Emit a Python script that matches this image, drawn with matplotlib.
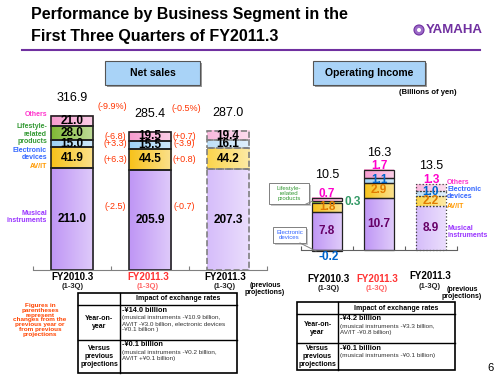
import numpy as np
import matplotlib
matplotlib.use("Agg")
import matplotlib.pyplot as plt
from matplotlib.patches import Rectangle, Circle
from matplotlib.colors import to_rgb

plt.rcParams['font.family'] = ['Liberation Sans', 'DejaVu Sans']

# =================================================================
# Data
# =================================================================
segments = ['Musical instruments', 'AV/IT', 'Electronic devices',
            'Lifestyle-related products', 'Others']
periods = ['FY2010.3', 'FY2011.3', 'FY2011.3']

sales_musical = [211.0, 205.9, 207.3]
sales_avit = [41.9, 44.5, 44.2]
sales_elec = [15.0, 15.5, 16.1]
sales_life = [28.0, 0.0, 0.0]
sales_others = [21.0, 19.5, 19.4]
sales_totals = [316.9, 285.4, 287.0]

op_musical = [7.8, 10.7, 8.9]
op_avit = [1.8, 2.9, 2.2]
op_elec = [-0.2, 1.1, 1.0]
op_life = [0.3, 0.0, 0.0]
op_others = [0.7, 1.7, 1.3]
op_totals = [10.5, 16.3, 13.5]

chg_total = ['(-9.9%)', '(-0.5%)']
chg_yoy = ['(-2.5)', '(+6.3)', '(+3.3)', '(-6.8)']    # musical, av/it, elec, others
chg_proj = ['(-0.7)', '(+0.8)', '(-3.9)', '(+0.7)']

seg_colors = ['#bf96f5', '#f7c21a', '#9fd2f6', '#80b935', '#f79ccf']
seg_colors_light = ['#d6bdfa', '#fbd54c', '#bfe0f8', '#a8d46c', '#fab9dd']
label_colors = ['#9933ff', '#ff9900', '#3366ff', '#339933', '#ff33cc']
op_text_colors = ['#660066', '#e07b00', '#0066cc', '#339966', '#ff00cc']

W, H = 500, 375
fig = plt.figure(figsize=(5, 3.75), dpi=100)


def px_axes(x0, x1, y_top, y_bot):
    return fig.add_axes([x0 / W, 1 - y_bot / H, (x1 - x0) / W, (y_bot - y_top) / H])


def gradient_fill(ax, patch, color):
    c0 = np.array(to_rgb(color))
    c1 = c0 + (1 - c0) * 0.5
    t = np.linspace(0, 1, 32)[None, :, None]
    img = c0 * (1 - t) + c1 * t
    x0, y0 = patch.get_x(), patch.get_y()
    ax.imshow(img, extent=[x0, x0 + patch.get_width(), y0, y0 + patch.get_height()],
              aspect='auto', interpolation='bilinear', zorder=1.9)
    patch.set_facecolor('none')


def stack_bars(ax, series, width, lw, last_style):
    x = np.arange(3)
    pos_bottom = np.zeros(3)
    for k, vals in enumerate(series):
        for i in range(3):
            if vals[i] == 0:
                continue
            bottom = pos_bottom[i] if vals[i] > 0 else 0
            last = i == 2
            col = seg_colors_light[k] if last else seg_colors[k]
            b = ax.bar(x[i], vals[i], bottom=bottom, width=width, color=col,
                       edgecolor=last_style[1] if last else '#222222',
                       linewidth=lw, linestyle=last_style[0] if last else '-', zorder=2)
            gradient_fill(ax, b.patches[0], col)
            if vals[i] > 0:
                pos_bottom[i] += vals[i]
    return x


# =================================================================
# Net sales chart
# =================================================================
ax1 = px_axes(33, 267, 60, 270)
sales_series = [sales_musical, sales_avit, sales_elec, sales_life, sales_others]
x = stack_bars(ax1, sales_series, 0.55, 1.2, ('--', '#808080'))
ax1.set_xlim(-0.5, 2.5)
ax1.set_ylim(0, 210 / 0.485)
for s in ['top', 'right', 'left']:
    ax1.spines[s].set_visible(False)
ax1.spines['bottom'].set_color('#808080')
ax1.set_yticks([])
ax1.set_xticks([-0.5, 0.5, 1.5, 2.5])
ax1.set_xticklabels([])
ax1.tick_params(axis='x', direction='in', length=3, color='#808080')

cum = np.cumsum(np.array(sales_series), axis=0)
for k, vals in enumerate(sales_series):
    for i in range(3):
        if vals[i] == 0:
            continue
        mid = cum[k][i] - vals[i] / 2
        ax1.text(x[i], mid, f'{vals[i]:.1f}', ha='center', va='center',
                 fontsize=8.5, fontweight='bold', zorder=3)
for i in range(3):
    ax1.text(x[i], sales_totals[i] + 37, f'{sales_totals[i]:.1f}', ha='center',
             va='center', fontsize=9, zorder=3)

# change figures
red = '#ff3300'
ax1.text(0.52, 338, chg_total[0], ha='center', va='center', fontsize=6.5, color=red)
ax1.text(1.47, 332, chg_total[1], ha='center', va='center', fontsize=6.5, color=red)
mids2 = [130, cum[1][1] - sales_avit[1] / 2, cum[2][1] - sales_elec[1] / 2 + 2,
         cum[4][1] - sales_others[1] / 2]
for j in range(4):
    ax1.text(0.56, mids2[j], chg_yoy[j], ha='center', va='center', fontsize=6.5, color=red)
    ax1.text(1.44, mids2[j], chg_proj[j], ha='center', va='center', fontsize=6.5, color=red)

# =================================================================
# Operating income chart
# =================================================================
ax2 = px_axes(301, 457, 100, 260)
op_series = [op_musical, op_avit, op_elec, op_life, op_others]
stack_bars(ax2, op_series, 0.56, 0.9, (':', '#404040'))
ax2.set_xlim(-0.5, 2.5)
ax2.set_ylim(-10 / 4.9, 150 / 4.9)
for s in ['top', 'right', 'left']:
    ax2.spines[s].set_visible(False)
ax2.spines['bottom'].set_position(('data', 0))
ax2.spines['bottom'].set_color('#606060')
ax2.spines['bottom'].set_zorder(2.5)
ax2.set_yticks([])
ax2.set_xticks([-0.5, 0.5, 1.5, 2.5])
ax2.set_xticklabels([])
ax2.tick_params(axis='x', direction='in', length=3, color='#606060')
# thin green lifestyle stripe without heavy outline
for p in ax2.patches:
    if abs(p.get_height() - op_life[0]) < 1e-9:
        p.set_edgecolor('none')

ob = np.array([op_musical, op_avit, op_elec, op_life, op_others])
pos = np.where(ob > 0, ob, 0)
ocum = np.cumsum(pos, axis=0)
lab_kw = dict(ha='center', va='center', fontsize=8.5, fontweight='bold', zorder=3)
for i in range(3):
    ax2.text(i, op_musical[i] / 2, f'{op_musical[i]:.1f}', color=op_text_colors[0], **lab_kw)
    ax2.text(i, ocum[1][i] - op_avit[i] / 2, f'{op_avit[i]:.1f}', color=op_text_colors[1], **lab_kw)
ax2.text(0, ocum[4][0] + 0.8, f'{op_others[0]:.1f}', color=op_text_colors[4], **lab_kw)
ax2.text(0.49, 9.7, f'{op_life[0]:.1f}', color=op_text_colors[3], **lab_kw)
ax2.text(0.03, -1.4, f'{op_elec[0]:.1f}', color=op_text_colors[2], **lab_kw)
for i in (1, 2):
    ax2.text(i, ocum[2][i] - op_elec[i] / 2 + 0.2, f'{op_elec[i]:.1f}', color=op_text_colors[2], **lab_kw)
    ax2.text(i, ocum[4][i] + 0.8, f'{op_others[i]:.1f}', color=op_text_colors[4], **lab_kw)
tot_off = [4.9, 3.5, 3.7]
for i in range(3):
    ax2.text(i, op_totals[i] + tot_off[i], f'{op_totals[i]:.1f}', ha='center',
             va='center', fontsize=9, zorder=3)

# =================================================================
# Overlay: titles, labels, tables
# =================================================================
ov = fig.add_axes([0, 0, 1, 1])
ov.set_xlim(0, W)
ov.set_ylim(H, 0)
ov.axis('off')

ov.text(31, 15, 'Performance by Business Segment in the', fontsize=11.5,
        fontweight='bold', va='center')
ov.text(31, 37, 'First Three Quarters of FY2011.3', fontsize=11.5,
        fontweight='bold', va='center')
ov.plot([22, 480], [50, 50], color='#7030a0', lw=1.5)
ov.add_patch(Circle((419, 30), 5, facecolor='#9c6cc8', edgecolor='#7030a0', lw=0.8))
ov.add_patch(Circle((419, 30), 2, facecolor='white', edgecolor='none'))
ov.text(426, 30, 'YAMAHA', fontsize=9.5, fontweight='bold', color='#7030a0',
        va='center', family=['Liberation Sans Narrow', 'Liberation Sans'])

for (x0, x1, txt) in [(105, 200, 'Net sales'), (313, 425, 'Operating Income')]:
    ov.add_patch(Rectangle((x0 + 2, 63), x1 - x0, 24, facecolor='#9a9a9a', edgecolor='none'))
    ov.add_patch(Rectangle((x0, 61), x1 - x0, 24, facecolor='#a9d3f7', edgecolor='#555555', lw=0.8))
    ov.text((x0 + x1) / 2, 73, txt, ha='center', va='center', fontsize=7.5, fontweight='bold')

ov.text(428, 93, '(Billions of yen)', ha='center', va='center', fontsize=5.5, fontweight='bold')

# segment labels (net sales, left)
sk = dict(ha='right', va='center', fontsize=5, fontweight='bold', linespacing=1.05)
ov.text(47, 115, 'Others', color=label_colors[4], **sk)
ov.text(47, 134, 'Lifestyle-\nrelated\nproducts', color=label_colors[3], **sk)
ov.text(47, 154, 'Electronic\ndevices', color=label_colors[2], **sk)
ov.text(47, 167, 'AV/IT', color=label_colors[1], **sk)
ov.text(47, 217, 'Musical\ninstruments', color=label_colors[0], **sk)

# segment labels (operating income, right)
sk2 = dict(ha='left', va='center', fontsize=5, fontweight='bold', linespacing=1.05)
ov.text(447, 182, 'Others', color=label_colors[4], **sk2)
ov.text(447, 193, 'Electronic\ndevices', color=label_colors[2], **sk2)
ov.text(447, 207, 'AV/IT', color=label_colors[1], **sk2)
ov.text(447, 232, 'Musical\ninstruments', color=label_colors[0], **sk2)

# callouts
ov.add_patch(Rectangle((271, 185), 40, 21, facecolor='#c8c8c8', edgecolor='none'))
ov.add_patch(Rectangle((269, 183), 40, 21, facecolor='white', edgecolor='#808080', lw=0.7))
ov.text(289, 193.5, 'Lifestyle-\nrelated\nproducts', ha='center', va='center',
        fontsize=4.4, color='#339933', linespacing=1.0)
ov.plot([306, 313], [204, 201], color='#808080', lw=0.7)
ov.add_patch(Rectangle((275, 229), 33, 16, facecolor='#c8c8c8', edgecolor='none'))
ov.add_patch(Rectangle((273, 227), 33, 16, facecolor='white', edgecolor='#808080', lw=0.7))
ov.text(289.5, 235, 'Electronic\ndevices', ha='center', va='center',
        fontsize=4.4, color='#3366ff', linespacing=1.0)
ov.plot([300, 316], [243, 251], color='#808080', lw=0.7)

# x labels
xl = [(73, 148, 225), (329, 377, 430)]
ys = [(277, 287), (279, 288)]
for chart in range(2):
    for i in range(3):
        c1 = '#ff3333' if i == 1 else 'black'
        c2 = '#ff6666' if i == 1 else '#222222'
        y1, y2 = ys[chart]
        if chart == 1 and i == 2:
            y1, y2 = 276, 286
        ov.text(xl[chart][i], y1, periods[i], ha='center', va='center',
                fontsize=7, fontweight='bold', color=c1)
        ov.text(xl[chart][i], y2, '(1-3Q)', ha='center', va='center',
                fontsize=5.5, fontweight='bold', color=c2)
ov.text(265, 289, '(previous\nprojections)', ha='center', va='center', fontsize=5,
        fontweight='bold', linespacing=1.1)
ov.text(462, 293, '(previous\nprojections)', ha='center', va='center', fontsize=5,
        fontweight='bold', linespacing=1.1)

ov.text(40, 320, 'Figures in\nparentheses\nrepresent\nchanges from the\nprevious year or\nfrom previous\nprojections',
        ha='center', va='center', fontsize=4.6, fontweight='bold', color='#ff4400',
        linespacing=0.95)


def table(x0, xs, x1, y0, yh, yr, y1, rows):
    ov.add_patch(Rectangle((x0, y0), x1 - x0, y1 - y0, facecolor='white',
                           edgecolor='black', lw=1.2))
    ov.plot([xs, xs], [y0, y1], color='black', lw=1.0)
    ov.plot([x0, x1], [yh, yh], color='black', lw=1.0)
    ov.plot([x0, x1], [yr, yr], color='black', lw=1.0)
    ov.text((xs + x1) / 2, (y0 + yh) / 2, 'Impact of exchange rates', ha='center',
            va='center', fontsize=5, fontweight='bold')
    bands = [(yh, yr), (yr, y1)]
    heads = ['Year-on-\nyear', 'Versus\nprevious\nprojections']
    for (ya, yb), head, (amt, det) in zip(bands, heads, rows):
        ov.text((x0 + xs) / 2, (ya + yb) / 2, head, ha='center', va='center',
                fontsize=5, fontweight='bold', linespacing=1.15)
        ov.text(xs + 2, ya + 5, amt, ha='left', va='center', fontsize=5.3, fontweight='bold')
        ov.text(xs + 2, ya + 10, det, ha='left', va='top', fontsize=4.6,
                color='#333333', linespacing=1.2)


table(78, 120, 237, 293, 305, 340, 373,
      [('-¥14.0 billion', '(musical instruments -¥10.9 billion,\nAV/IT -¥3.0 billion, electronic devices\n-¥0.1 billion )'),
       ('-¥0.1 billion', '(musical instruments -¥0.2 billion,\nAV/IT +¥0.1 billion)')])
table(297, 338, 455, 302, 314, 343, 370,
      [('-¥4.2 billion', '(musical instruments -¥3.3 billion,\nAV/IT -¥0.8 billion)'),
       ('-¥0.1 billion', '(musical instruments -¥0.1 billion)')])

ov.text(490, 368, '6', ha='center', va='center', fontsize=8)

fig.savefig('out.png', dpi=100)
